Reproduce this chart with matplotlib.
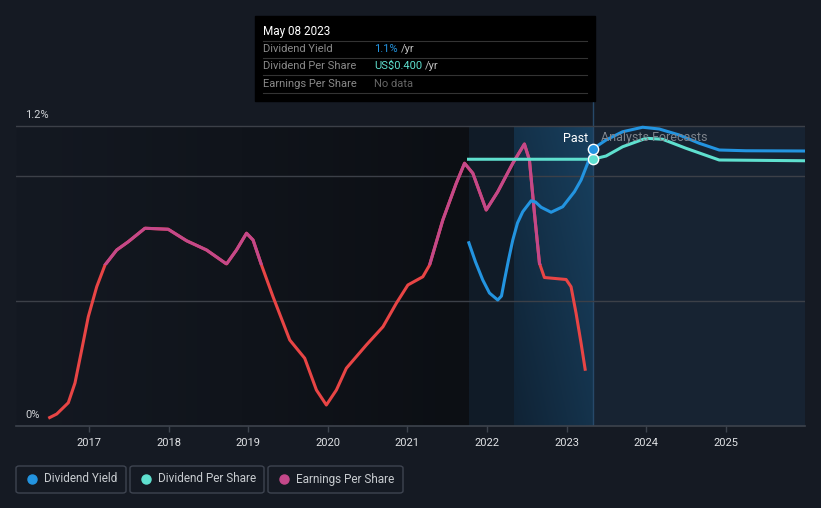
import numpy as np
import matplotlib
matplotlib.use('Agg')
import matplotlib.pyplot as plt
from matplotlib.patches import Rectangle, FancyBboxPatch
from matplotlib.colors import to_rgb

plt.rcParams['font.family'] = ['Roboto', 'DejaVu Sans']

# --- data ---
eps_x = [2016.489, 2016.595, 2016.740, 2016.824, 2016.908, 2016.991, 2017.097, 2017.201,
         2017.348, 2017.493, 2017.703, 2017.995, 2018.226, 2018.477, 2018.728, 2018.853,
         2018.979, 2019.061, 2019.167, 2019.312, 2019.522, 2019.710, 2019.857, 2019.982,
         2020.108, 2020.233, 2020.484, 2020.693, 2020.861, 2021.006, 2021.194, 2021.279,
         2021.445, 2021.614, 2021.718, 2021.822, 2021.990, 2022.135, 2022.324, 2022.470,
         2022.533, 2022.596, 2022.659, 2022.721, 2022.994, 2023.056, 2023.119, 2023.182,
         2023.236]
eps_y = [0.031, 0.048, 0.093, 0.172, 0.304, 0.437, 0.557, 0.644,
         0.704, 0.737, 0.791, 0.787, 0.741, 0.704, 0.648, 0.704,
         0.771, 0.744, 0.644, 0.517, 0.344, 0.271, 0.144, 0.084,
         0.144, 0.231, 0.324, 0.397, 0.491, 0.564, 0.597, 0.644,
         0.824, 0.971, 1.051, 1.011, 0.864, 0.937, 1.051, 1.128,
         1.064, 0.851, 0.651, 0.594, 0.586, 0.557, 0.451, 0.331,
         0.221]

dy_x = [2021.772, 2021.856, 2021.947, 2022.031, 2022.135, 2022.182, 2022.220, 2022.270,
        2022.324, 2022.383, 2022.449, 2022.555, 2022.609, 2022.680, 2022.805, 2022.951,
        2023.098, 2023.182, 2023.261, 2023.328, 2023.496, 2023.704, 2023.955, 2024.164,
        2024.415, 2024.666, 2024.917, 2025.252, 2025.984]
dy_y = [0.733, 0.656, 0.584, 0.532, 0.504, 0.520, 0.584, 0.664,
        0.744, 0.812, 0.857, 0.901, 0.896, 0.875, 0.855, 0.877,
        0.937, 0.984, 1.048, 1.108, 1.144, 1.177, 1.195, 1.188,
        1.164, 1.131, 1.104, 1.101, 1.100]

dps_x = [2021.768, 2023.328, 2023.496, 2023.704, 2023.998, 2024.206, 2024.499, 2024.917, 2025.984]
dps_y = [1.067, 1.067, 1.080, 1.117, 1.151, 1.147, 1.111, 1.064, 1.061]

years = [2017, 2018, 2019, 2020, 2021, 2022, 2023, 2024, 2025]
now = 2023.328
hist_start = 2021.77
hl_start = 2022.333
eps_split = 0.644
top = 1.2

BG = '#151a23'
BLUE = '#2394e0'
TEAL = '#5fe0cf'
PINK = '#c4488a'
RED = '#e84545'

W, H = 821, 508
fig = plt.figure(figsize=(W / 100, H / 100), dpi=100, facecolor=BG)
ax = fig.add_axes([16 / W, 1 - 426 / H, (805 - 16) / W, (426 - 100) / H])
ax.set_facecolor(BG)
x0, x1 = 2016.083, 2025.995
y0, y1 = 0.0, 1.304
ax.set_xlim(x0, x1)
ax.set_ylim(y0, y1)

# past background gradient (darker toward history band)
g = np.linspace(0, 1, 200)
c1, c2 = np.array(to_rgb('#141922')), np.array(to_rgb('#0c0f14'))
grad = (c1[None, :] * (1 - g[:, None]) + c2[None, :] * g[:, None])[None, :, :]
ax.imshow(grad, extent=[x0, hist_start, y0, top], aspect='auto', zorder=0)
ax.fill_between([hist_start, hl_start], y0, top, color='#101b27', lw=0, zorder=0)
# highlight band gradient
gx, gy = np.meshgrid(np.linspace(0, 1, 60), np.linspace(1, 0, 60))
t = np.clip(0.55 * gx + 0.45 * gy, 0, 1)[..., None]
ca, cb = np.array(to_rgb('#102335')), np.array(to_rgb('#18405f'))
ax.imshow(ca * (1 - t) + cb * t, extent=[hl_start, now, y0, top], aspect='auto', zorder=0)
ax.fill_between([now, x1], y0, top, color='#172332', lw=0, zorder=0)
ax.axvline(now, color='#27496a', lw=1, zorder=1)

for v in [0.5, 1.0, 1.2]:
    ax.axhline(v, color='#3c4048', lw=1, zorder=1)

# EPS: red below threshold, pink above
ax.plot(eps_x, eps_y, color=RED, lw=2.2, zorder=3, solid_capstyle='butt')
pink, = ax.plot(eps_x, eps_y, color=PINK, lw=2.2, zorder=4, solid_capstyle='butt')
clip = Rectangle((x0, eps_split), x1 - x0, y1 - eps_split, transform=ax.transData)
pink.set_clip_path(clip)

ax.plot(dps_x, dps_y, color=TEAL, lw=2.2, zorder=5)
ax.plot(dy_x, dy_y, color=BLUE, lw=2.2, zorder=6)
ax.scatter([now], [dps_y[1]], s=55, color=TEAL, edgecolor='white', lw=1, zorder=7)
ax.scatter([now], [dy_y[19]], s=55, color=BLUE, edgecolor='white', lw=1, zorder=7)

ax.text(now - 0.06, 1.152, 'Past', color='white', fontsize=9, ha='right', va='center', zorder=8)
ax.text(now + 0.1, 1.152, 'Analysts Forecasts', color='#7d838b', fontsize=9, ha='left',
        va='center', zorder=8)

ax.text(2016.195, 1.244, '1.2%', color='#d0d3d7', fontsize=8, va='center')
ax.text(2016.195, 0.046, '0%', color='#d0d3d7', fontsize=8, va='center')

for s in ['top', 'right', 'left']:
    ax.spines[s].set_visible(False)
ax.spines['bottom'].set_color('#3d434d')
ax.spines['bottom'].set_linewidth(1.2)
ax.set_yticks([])
ax.set_xticks(years)
ax.set_xticklabels([str(y) for y in years])
ax.tick_params(axis='x', colors='#3d434d', length=4, width=1, labelcolor='#e0e2e5',
               labelsize=8, pad=5)

# tooltip
def fx(x):
    return x / W

def fy(y):
    return 1 - y / H

fig.add_artist(Rectangle((fx(255), fy(101)), fx(595) - fx(255), fy(16) - fy(101),
                         transform=fig.transFigure, color='black', zorder=10))
fig.text(fx(263), fy(31), 'May 08 2023', color='white', fontsize=8.5, va='center', zorder=11)
rows = [('Dividend Yield', '1.1%', BLUE, 49),
        ('Dividend Per Share', 'US$0.400', TEAL, 66),
        ('Earnings Per Share', None, None, 84)]
for yy in [41, 58, 75, 93]:
    fig.add_artist(plt.Line2D([fx(263), fx(587)], [fy(yy), fy(yy)], transform=fig.transFigure,
                              color='#333333', lw=0.8, zorder=11))
for label, val, col, yy in rows:
    fig.text(fx(263), fy(yy), label, color='#8a8a8a', fontsize=8, va='center', zorder=11)
    if val is None:
        fig.text(fx(374), fy(yy), 'No data', color='#666666', fontsize=8, va='center', zorder=11)
    else:
        tt = fig.text(fx(374), fy(yy), val, color=col, fontsize=8, va='center', zorder=11)
        fig.canvas.draw()
        bb = tt.get_window_extent()
        fig.text(bb.x1 / W + 3 / W, fy(yy), '/yr', color='#c0c0c0', fontsize=8, va='center',
                 zorder=11)

# legend
items = [('Dividend Yield', BLUE, 16, 126), ('Dividend Per Share', TEAL, 130, 264),
         ('Earnings Per Share', PINK, 268, 403)]
for label, col, xa, xb in items:
    fig.add_artist(FancyBboxPatch((fx(xa), fy(493)), fx(xb) - fx(xa), fy(466) - fy(493),
                                  boxstyle='round,pad=0,rounding_size=0.004',
                                  transform=fig.transFigure, facecolor='none',
                                  edgecolor='#3e4450', lw=1))
    fig.add_artist(plt.Line2D([fx(xa + 16)], [fy(479)], marker='o', markersize=6.5,
                              color=col, transform=fig.transFigure))
    fig.text(fx(xa + 28), fy(479), label, color='#c8ccd0', fontsize=8.5, va='center')

fig.savefig('out.png', dpi=100, facecolor=BG)
